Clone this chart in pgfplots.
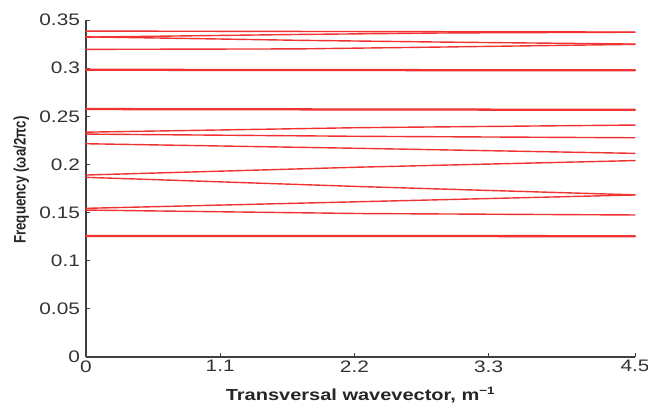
\documentclass[border=0pt]{standalone}
\usepackage{pgfplots}
\pgfplotsset{compat=1.18}
\usepackage{fontspec}
\setmainfont{Liberation Sans}
\newfontfamily\widefont[FakeStretch=1.25]{Liberation Sans}
\definecolor{bandred}{RGB}{240,50,50}

\pgfplotsset{
  band/.style={color=bandred, solid, line width=1.05pt, mark=none, line join=round, line cap=round},
  dband/.style={band, line width=1.7pt},
}

\begin{document}
\begin{tikzpicture}
\begin{axis}[
  scale only axis,
  width=411.75pt, height=252.75pt,
  xmin=0, xmax=4.5, ymin=0, ymax=0.35,
  axis x line=bottom, axis y line=left,
  axis line style={-, black!75, line width=0.8pt},
  tick align=inside, major tick length=3pt,
  tick style={black!75, line width=0.7pt},
  xtick={0,1.1,2.2,3.3,4.5},
  xticklabels={0,1.1,2.2,3.3,4.5},
  ytick={0,0.05,0.1,0.15,0.2,0.25,0.3,0.35},
  yticklabels={0,0.05,0.1,0.15,0.2,0.25,0.3,0.35},
  /pgf/number format/assume math mode=true,
  tick label style={font=\widefont\fontsize{12.5}{14}\selectfont, text=black!80},
  yticklabel style={xshift=-1pt},
  xticklabel style={yshift=1pt},
  xlabel={\bfseries Transversal wavevector, m\textsuperscript{\bfseries −1}},
  ylabel={\scalebox{1}[1.25]{\bfseries Frequency (ωa/2πc)}},
  every axis x label/.style={at={(axis description cs:0.5,-0.113)}, anchor=center,
    font=\widefont\fontsize{12}{14}\selectfont, text=black!85},
  every axis y label/.style={at={(axis description cs:-0.118,0.525)}, rotate=90, anchor=center,
    font=\fontsize{10}{12}\selectfont, text=black!85},
  clip=false,
]
% upper bands
\addplot[band] coordinates {(0,0.3385) (4.5,0.3375)};
\addplot[band] coordinates {(0,0.3322) (1.75,0.3350) (3.0,0.3366) (4.5,0.3373)};
\addplot[band] coordinates {(0,0.3325) (1.75,0.3289) (2.9,0.3271) (4.5,0.3250)};
\addplot[band] coordinates {(0,0.3195) (1.75,0.3200) (2.9,0.3219) (4.5,0.3247)};
% flat degenerate bands
\addplot[dband] coordinates {(0,0.2983) (4.5,0.2977)};
\addplot[dband] coordinates {(0,0.2575) (4.5,0.2567)};
% middle bands
\addplot[band] coordinates {(0,0.2335) (2.25,0.2382) (4.5,0.2409)};
\addplot[band] coordinates {(0,0.2315) (2.25,0.2292) (4.5,0.2277)};
\addplot[band] coordinates {(0,0.2215) (2.25,0.2167) (4.5,0.2115)};
\addplot[band] coordinates {(0,0.1890) (2.25,0.1972) (4.5,0.2040)};
\addplot[band] coordinates {(0,0.1866) (2.25,0.1770) (4.5,0.1684)};
\addplot[band] coordinates {(0,0.1544) (2.25,0.1613) (4.5,0.1683)};
\addplot[band] coordinates {(0,0.1526) (2.25,0.1490) (4.5,0.1475)};
% lowest band
\addplot[dband] coordinates {(0,0.1257) (4.5,0.1255)};
\end{axis}
\pgfresetboundingbox
\path[use as bounding box] (-64.5pt,-42.75pt) rectangle (421.5pt,267.75pt);
\end{tikzpicture}
\end{document}
